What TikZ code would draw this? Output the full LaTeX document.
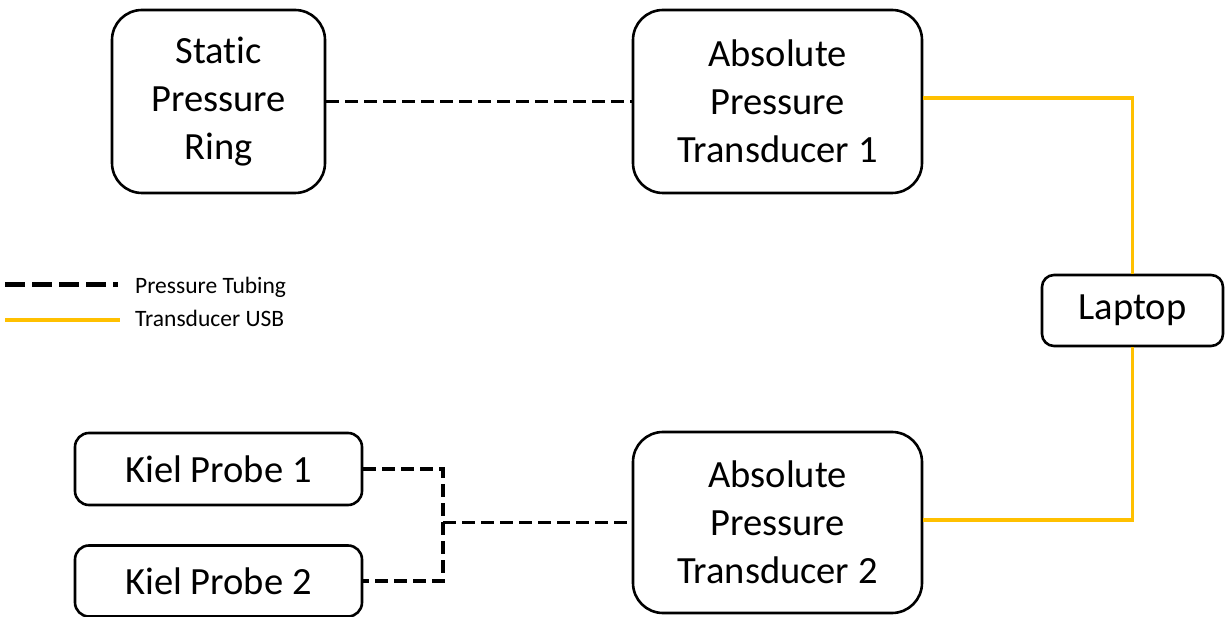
\documentclass[tikz,border=0pt]{standalone}
\usepackage{fontspec}
\setmainfont{Carlito}[Ligatures={NoCommon}]
\definecolor{usbgold}{HTML}{FFC000}
\begin{document}
\begin{tikzpicture}[x=1pt,y=-1pt,
  box/.style={draw=black,line width=2.6pt,fill=white,inner sep=0pt,align=center,
    font=\fontsize{38.5}{48}\selectfont},
  tube/.style={draw=black,line width=3.6pt,dash pattern=on 12.5pt off 6.5pt},
  usb/.style={draw=usbgold,line width=3.4pt},
  legtext/.style={anchor=west,inner sep=0pt,font=\fontsize{23.5}{26}\selectfont}]
\useasboundingbox (0,0) rectangle (1227,617);
% boxes
\node[box,rounded corners=30pt,minimum width=213pt,minimum height=183pt] (spr) at (218.5,101.5) {Static\\Pressure\\Ring};
\node[box,rounded corners=30pt,minimum width=289pt,minimum height=183pt] (apt1) at (777.5,101.5) {Absolute\\Pressure\\Transducer 1};
\node[box,rounded corners=30pt,minimum width=289pt,minimum height=181pt] (apt2) at (777.5,522.5) {Absolute\\Pressure\\Transducer 2};
\node[box,rounded corners=14pt,minimum width=287pt,minimum height=72pt] (kp1) at (218.5,469) {Kiel Probe 1};
\node[box,rounded corners=14pt,minimum width=287pt,minimum height=71pt] (kp2) at (218.5,581) {Kiel Probe 2};
\node[box,rounded corners=12pt,minimum width=181pt,minimum height=71pt] (lap) at (1132.5,310.5) {Laptop};
% junction
\coordinate (jt) at (443,469);
\coordinate (jb) at (443,581);
\coordinate (jm) at (443,522.5);
% pressure tubing
\draw[tube] (spr.east) -- (apt1.west);
\draw[tube] (kp1.east) -- (jt) -- (jb) -- (kp2.east);
\draw[tube] (jm) -- (apt2.west);
% USB
\draw[usb] ([yshift=3.5pt]apt1.east) -| (lap.north);
\draw[usb] (lap.south) |- ([yshift=2.5pt]apt2.east);
% legend
\coordinate (l1a) at (5,285);
\coordinate (l1b) at (118,285);
\coordinate (l2a) at (5,320);
\coordinate (l2b) at (120,320);
\draw[draw=black,line width=5pt,dash pattern=on 20pt off 7pt] (l1a) -- (l1b);
\draw[usb,line width=4.5pt] (l2a) -- (l2b);
\node[legtext] (lt1) at (135,287) {Pressure Tubing};
\node[legtext] (lt2) at (135,318) {Transducer USB};
\end{tikzpicture}
\end{document}
